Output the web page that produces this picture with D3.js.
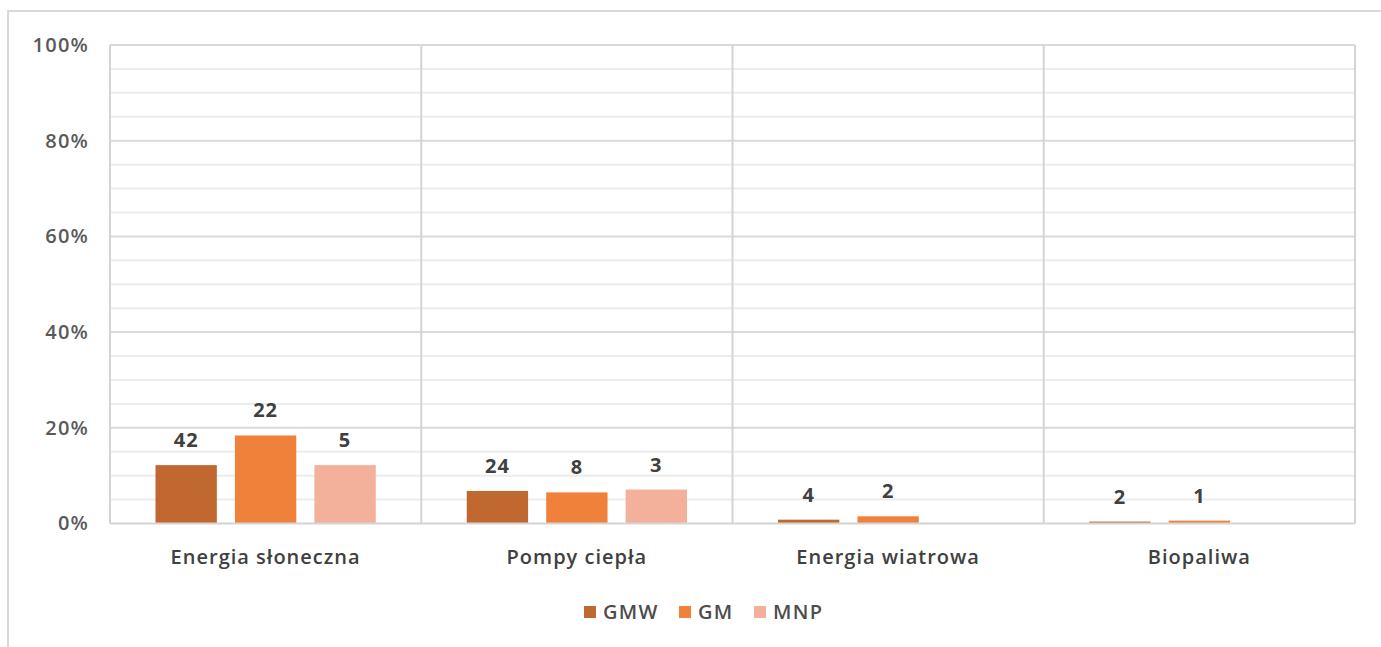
<!DOCTYPE html>
<html>
<head>
<meta charset="utf-8">
<script src="https://cdn.jsdelivr.net/npm/d3@7"></script>
<style>
  html, body { margin: 0; padding: 0; background: #fff; }
  svg { display: block; font-family: "Open Sans", "Noto Sans", sans-serif; }
</style>
</head>
<body>
<svg id="chart" width="1381" height="647"></svg>
<script>
const categories = ["Energia słoneczna", "Pompy ciepła", "Energia wiatrowa", "Biopaliwa"];
const series = ["GMW", "GM", "MNP"];
const colors = ["#C0682F", "#F0813A", "#F3B09A"];
// bar heights (percent)
const GMW = [12.2, 6.8, 0.8, 0.4];
const GM  = [18.4, 6.5, 1.5, 0.6];
const MNP = [12.2, 7.1, null, null];
// data labels (counts)
const GMW_labels = ["42", "24", "4", "2"];
const GM_labels  = ["22", "8", "2", "1"];
const MNP_labels = ["5", "3", null, null];
const yTicks = [0, 20, 40, 60, 80, 100];

(function () {
const values = [GMW, GM, MNP];
const labels = [GMW_labels, GM_labels, MNP_labels];

const svg = d3.select("#chart");
const pLeft = 110, pRight = 1355, pTop = 45, pBottom = 523.5;

const x0 = d3.scaleBand().domain(categories).range([pLeft, pRight]).padding(0);
const groupW = x0.bandwidth();
const x1 = d3.scaleBand().domain(series).range([45.5, groupW - 45.5]).paddingInner(0.228).paddingOuter(0);
const y = d3.scaleLinear().domain([0, 100]).range([pBottom, pTop]);

// outer frame
svg.append("path").attr("d", `M8,647 L8,11 L1381,11`).attr("fill", "none")
  .attr("stroke", "#d9d9d9").attr("stroke-width", 2);

// minor gridlines
const minor = d3.range(5, 100, 5).filter(v => v % 20 !== 0);
svg.append("g").selectAll("line").data(minor).join("line")
  .attr("x1", pLeft).attr("x2", pRight)
  .attr("y1", d => y(d)).attr("y2", d => y(d))
  .attr("stroke", "#ececec").attr("stroke-width", 2);
// major gridlines
svg.append("g").selectAll("line").data(yTicks.filter(v => v > 0)).join("line")
  .attr("x1", pLeft).attr("x2", pRight)
  .attr("y1", d => y(d)).attr("y2", d => y(d))
  .attr("stroke", "#d9d9d9").attr("stroke-width", 2);

// vertical separators
const seps = categories.map(c => x0(c)).concat([pRight]);
svg.append("g").selectAll("line").data(seps).join("line")
  .attr("x1", d => d).attr("x2", d => d)
  .attr("y1", pTop).attr("y2", pBottom)
  .attr("stroke", "#d4d4d4").attr("stroke-width", 2);

// y axis labels
const yAxis = d3.axisLeft(y).tickValues(yTicks).tickFormat(d => d + "%").tickSize(0).tickPadding(21);
const gy = svg.append("g").attr("transform", `translate(${pLeft},0)`).call(yAxis);
gy.select(".domain").remove();
gy.selectAll("text").attr("font-size", 20).attr("font-weight", 600).attr("fill", "#595959")
  .attr("letter-spacing", 1.2)
  .attr("font-family", "'Open Sans', sans-serif");

// bars
series.forEach((s, si) => {
  const g = svg.append("g");
  categories.forEach((c, ci) => {
    const v = values[si][ci];
    if (v == null) return;
    const bx = x0(c) + x1(s);
    g.append("rect")
      .attr("x", bx).attr("width", x1.bandwidth())
      .attr("y", y(v)).attr("height", y(0) - y(v))
      .attr("fill", colors[si]);
    const lb = labels[si][ci];
    if (lb != null) {
      g.append("text")
        .attr("x", bx + x1.bandwidth() / 2)
        .attr("y", y(v) - 18)
        .attr("text-anchor", "middle")
        .attr("font-size", 20).attr("font-weight", 700)
        .attr("letter-spacing", 1)
        .attr("fill", "#404040")
        .text(lb);
    }
  });
});

// baseline
svg.append("line").attr("x1", pLeft).attr("x2", pRight).attr("y1", pBottom).attr("y2", pBottom)
  .attr("stroke", "#d4d4d4").attr("stroke-width", 2);

// category labels
const xAxis = d3.axisBottom(x0).tickSize(0).tickPadding(0);
const gx = svg.append("g").attr("transform", `translate(0,${pBottom})`).call(xAxis);
gx.select(".domain").remove();
gx.selectAll("text").attr("dy", null).attr("y", 40)
  .attr("font-size", 20).attr("font-weight", 600).attr("fill", "#404040")
  .attr("letter-spacing", 1)
  .attr("font-family", "'Open Sans', sans-serif");

// legend
const legendX = [584, 679, 754];
const lg = svg.append("g");
series.forEach((s, i) => {
  lg.append("rect").attr("x", legendX[i]).attr("y", 606).attr("width", 12).attr("height", 12).attr("fill", colors[i]);
  lg.append("text").attr("x", legendX[i] + 19).attr("y", 619)
    .attr("font-size", 20).attr("font-weight", 600).attr("letter-spacing", 1.3)
    .attr("fill", "#4d4d4d").text(s);
});
})();
</script>
</body>
</html>
